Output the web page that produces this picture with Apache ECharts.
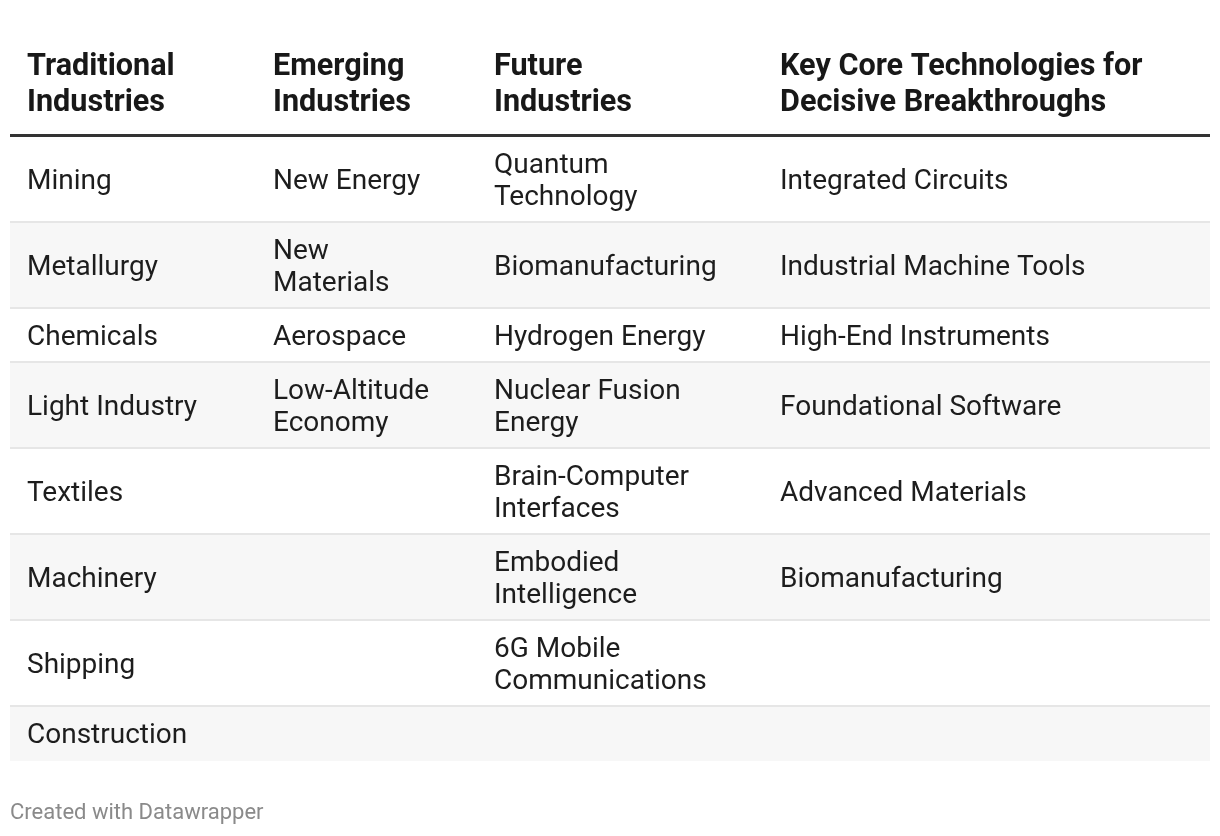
<!DOCTYPE html>
<html>
<head>
<meta charset="utf-8">
<script src="https://cdn.jsdelivr.net/npm/echarts@6/dist/echarts.min.js"></script>
<style>
  html, body { margin: 0; background: #fff; }
  #main { width: 1220px; height: 836px; }
</style>
</head>
<body>
<div id="main"></div>
<script>
// data
const headers     = ["Traditional Industries", "Emerging Industries", "Future Industries", "Key Core Technologies for Decisive Breakthroughs"]
const traditional = ["Mining", "Metallurgy", "Chemicals", "Light Industry", "Textiles", "Machinery", "Shipping", "Construction"]
const emerging    = ["New Energy", "New Materials", "Aerospace", "Low-Altitude Economy", "", "", "", ""]
const future      = ["Quantum Technology", "Biomanufacturing", "Hydrogen Energy", "Nuclear Fusion Energy", "Brain-Computer Interfaces", "Embodied Intelligence", "6G Mobile Communications", ""]
const keyTech     = ["Integrated Circuits", "Industrial Machine Tools", "High-End Instruments", "Foundational Software", "Advanced Materials", "Biomanufacturing", "", ""]
const footerText  = "Created with Datawrapper"

// layout
const FONT = "Roboto, 'Noto Sans', sans-serif"
const tableLeft = 10, tableRight = 1210
const colLeft = [10, 256, 477, 763]
const pad = 17
const bodyWrap = [215, 165, 240, 400]
const headWrap = [200, 160, 200, 385]
const bodySize = 28, headSize = 30.6
const bodyLine = 31.5, headLine = 36
const headTop = 49, headBorder = 135.5
const bodyTop = 137
const textShift = 3

const columns = [traditional, emerging, future, keyTech]

// word wrap using canvas metrics
const ctx = document.createElement("canvas").getContext("2d")
function wrap(text, width, font) {
  if (!text) return []
  ctx.font = font
  const words = text.split(" ")
  const lines = []
  let cur = ""
  words.forEach(w => {
    const test = cur ? cur + " " + w : w
    if (cur && ctx.measureText(test).width > width) {
      lines.push(cur)
      cur = w
    } else cur = test
  })
  if (cur) lines.push(cur)
  return lines
}

const bodyFont = `${bodySize}px ${FONT}`
const headFont = `bold ${headSize}px ${FONT}`

const rows = traditional.map((_, i) => columns.map((col, c) => wrap(col[i], bodyWrap[c], bodyFont)))
const headLines = headers.map((h, c) => wrap(h, headWrap[c], headFont))

const rowHeights = rows.map(r => Math.max(1, ...r.map(l => l.length)) * 32 + 22)
const rowTops = []
rowHeights.reduce((acc, h) => { rowTops.push(acc); return acc + h }, bodyTop)

function renderRow(params, api) {
  const i = api.value(0)
  const top = rowTops[i], h = rowHeights[i]
  const p0 = api.coord([tableLeft, top])
  const p1 = api.coord([tableRight, top + h])
  const children = []
  if (i % 2 === 1) {
    children.push({ type: "rect", shape: { x: p0[0], y: p0[1], width: p1[0] - p0[0], height: p1[1] - p0[1] },
      style: { fill: "#f7f7f7" } })
  }
  if (i < rows.length - 1) {
    children.push({ type: "rect", shape: { x: p0[0], y: p1[1] - 2, width: p1[0] - p0[0], height: 2 },
      style: { fill: "#e6e6e6" } })
  }
  const mid = top + (h - 2) / 2 + textShift
  rows[i].forEach((lines, c) => {
    lines.forEach((line, k) => {
      const pt = api.coord([colLeft[c] + pad, mid + (k - (lines.length - 1) / 2) * bodyLine])
      children.push({ type: "text", x: pt[0], y: pt[1],
        style: { text: line, font: bodyFont, fill: "#1d1d1d", align: "left", verticalAlign: "middle" } })
    })
  })
  return { type: "group", children }
}

function renderHeader(params, api) {
  const children = []
  headLines.forEach((lines, c) => {
    lines.forEach((line, k) => {
      const pt = api.coord([colLeft[c] + pad, headTop + headLine / 2 + k * headLine])
      children.push({ type: "text", x: pt[0], y: pt[1],
        style: { text: line, font: headFont, fill: "#181818", align: "left", verticalAlign: "middle" } })
    })
  })
  const a = api.coord([tableLeft, headBorder]), b = api.coord([tableRight, headBorder])
  children.push({ type: "line", shape: { x1: a[0], y1: a[1], x2: b[0], y2: b[1] },
    style: { stroke: "#333333", lineWidth: 3 } })
  return { type: "group", children }
}

const chart = echarts.init(document.getElementById("main"))
chart.setOption({
  animation: false,
  title: {
    text: footerText, left: 10, top: 802, padding: 0,
    textStyle: { fontFamily: FONT, fontSize: 22, fontWeight: "normal", color: "#8a8a8a" }
  },
  grid: { left: 0, right: 0, top: 0, bottom: 0 },
  xAxis: { type: "value", min: 0, max: 1220, show: false },
  yAxis: { type: "value", min: 0, max: 836, inverse: true, show: false },
  series: [
    { type: "custom", renderItem: renderRow, data: rows.map((_, i) => [i]), silent: true },
    { type: "custom", renderItem: renderHeader, data: [[0]], silent: true }
  ]
})
window.onresize = () => chart.resize()
</script>
</body>
</html>
